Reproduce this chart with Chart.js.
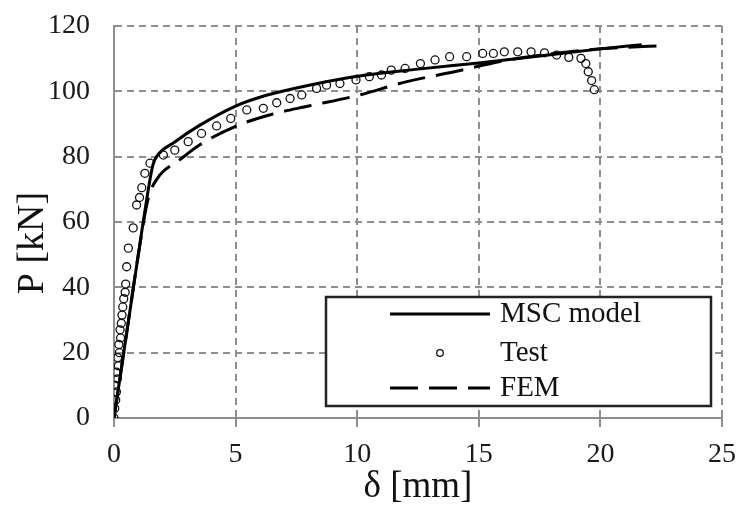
<!DOCTYPE html>
<html>
<head>
<meta charset="utf-8">
<script src="https://cdn.jsdelivr.net/npm/chart.js@4.4.1/dist/chart.umd.min.js"></script>
<style>
html,body{margin:0;padding:0;background:#fff;}
#wrap{width:742px;height:507px;}
</style>
</head>
<body>
<div id="wrap"><canvas id="c" width="742" height="507"></canvas></div>
<script>
// ---- data ----
const xTicks = [0, 5, 10, 15, 20, 25];
const yTicks = [0, 20, 40, 60, 80, 100, 120];
const xTitle = 'δ [mm]';
const yTitle = 'P [kN]';
const seriesNames = ['MSC model', 'Test', 'FEM'];

const mscX = [0, 0.4, 0.8, 1.2, 1.6, 1.75, 2.5, 3.5, 5, 6, 7.5, 10, 12.5, 15, 17.5, 20, 21.7];
const mscY = [0, 20, 40, 60, 77.5, 80, 84.5, 89.5, 95.5, 98.2, 101, 104.6, 106.8, 108.7, 110.8, 113, 114.3];

const testX = [0, 0.03, 0.07, 0.1, 0.06, 0.14, 0.1, 0.18, 0.15, 0.22, 0.2, 0.27, 0.25, 0.3, 0.33, 0.36, 0.4, 0.46, 0.48, 0.52, 0.59, 0.79, 0.93, 1.05, 1.14, 1.27, 1.48, 2.03, 2.5, 3.05, 3.6, 4.22, 4.8, 5.46, 6.14, 6.69, 7.24, 7.72, 8.33, 8.74, 9.29, 9.95, 10.5, 11.0, 11.4, 11.97, 12.6, 13.2, 13.8, 14.5, 15.16, 15.6, 16.05, 16.6, 17.15, 17.7, 18.2, 18.7, 19.2, 19.4, 19.5, 19.64, 19.75];
const testY = [0, 3, 5.5, 8, 10, 12, 14, 16, 18.5, 20, 22.5, 24.5, 27, 29, 31.5, 34, 36.5, 38.5, 41, 46.3, 52, 58.2, 65.2, 67.5, 70.5, 74.9, 78, 80.5, 82, 84.6, 87.1, 89.4, 91.7, 94.3, 94.8, 96.5, 97.8, 98.9, 100.9, 101.9, 102.4, 103.5, 104.5, 105, 106.5, 107, 108.5, 109.6, 110.6, 110.6, 111.6, 111.6, 112.1, 112.1, 112.1, 111.8, 111.1, 110.4, 110.1, 108.5, 106, 103.3, 100.5];

const femX = [0, 0.5, 1.0, 1.4, 1.8, 2.7, 3.5, 5, 6.5, 8, 10, 12, 14, 16, 18, 20, 22.6];
const femY = [0, 25, 50, 67, 73.5, 79, 83.5, 89.3, 93, 95.5, 98.7, 102.9, 106, 109.3, 111.5, 113, 114];

// ---- styles ----
const SERIF = "'Liberation Serif', 'Times New Roman', serif";
const GRID = '#8e8e8e';
const toPts = (xs, ys) => xs.map((x, i) => ({x: x, y: ys[i]}));

const legendPlugin = {
  id: 'boxLegend',
  afterDraw(chart) {
    const ctx = chart.ctx, a = chart.chartArea;
    const bx = a.left + 212, by = a.top + 271, bw = 385, bh = 109;
    ctx.save();
    ctx.fillStyle = '#fff';
    ctx.fillRect(bx, by, bw, bh);
    ctx.strokeStyle = '#222';
    ctx.lineWidth = 2.5;
    ctx.strokeRect(bx, by, bw, bh);
    const rows = [17, 56, 91];
    chart.data.datasets.forEach((ds, i) => {
      const ry = by + rows[i];
      const x1 = bx + 64, x2 = bx + 164;
      ctx.save();
      if (ds.showLine === false) {
        ctx.beginPath();
        ctx.lineWidth = 1.3;
        ctx.strokeStyle = '#111';
        ctx.arc((x1 + x2) / 2, ry, 3.3, 0, Math.PI * 2);
        ctx.stroke();
      } else {
        ctx.beginPath();
        ctx.lineWidth = ds.borderWidth;
        ctx.strokeStyle = ds.borderColor;
        ctx.setLineDash(ds.borderDash || []);
        ctx.moveTo(x1, ry);
        ctx.lineTo(x2, ry);
        ctx.stroke();
      }
      ctx.restore();
      ctx.fillStyle = '#111';
      ctx.font = '29px ' + SERIF;
      ctx.textBaseline = 'middle';
      ctx.textAlign = 'left';
      ctx.fillText(ds.label, bx + 174, ry);
    });
    ctx.restore();
  }
};

const yTitlePlugin = {
  id: 'yTitle',
  afterDraw(chart) {
    const ctx = chart.ctx, a = chart.chartArea;
    ctx.save();
    ctx.translate(a.left - 81, (a.top + a.bottom) / 2 + 21);
    ctx.rotate(-Math.PI / 2);
    ctx.fillStyle = '#111';
    ctx.font = '38px ' + SERIF;
    ctx.textAlign = 'center';
    ctx.textBaseline = 'middle';
    ctx.fillText(yTitle, 0, 0);
    ctx.restore();
  }
};

new Chart(document.getElementById('c'), {
  type: 'scatter',
  data: {
    datasets: [
      {
        label: seriesNames[0],
        data: toPts(mscX, mscY),
        showLine: true,
        borderColor: '#000',
        borderWidth: 3,
        pointRadius: 0,
        cubicInterpolationMode: 'monotone',
        fill: false
      },
      {
        label: seriesNames[1],
        data: toPts(testX, testY),
        showLine: false,
        pointStyle: 'circle',
        pointRadius: 4,
        pointBorderWidth: 1.3,
        pointBorderColor: '#111',
        pointBackgroundColor: 'rgba(0,0,0,0)',
        borderColor: '#111',
        backgroundColor: 'rgba(0,0,0,0)'
      },
      {
        label: seriesNames[2],
        data: toPts(femX, femY),
        showLine: true,
        borderColor: '#000',
        borderWidth: 3,
        borderDash: [28, 11],
        pointRadius: 0,
        cubicInterpolationMode: 'monotone',
        fill: false
      }
    ]
  },
  options: {
    responsive: false,
    animation: false,
    devicePixelRatio: 1,
    layout: {padding: {top: 26, right: 20, left: 0, bottom: 0}},
    plugins: {legend: {display: false}, tooltip: {enabled: false}},
    scales: {
      x: {
        type: 'linear', min: 0, max: 25,
        afterBuildTicks: s => { s.ticks = xTicks.map(v => ({value: v})); },
        afterFit: s => { s.height = 89; s.paddingLeft = 0; s.paddingRight = 0; },
        grid: {color: GRID, lineWidth: 2, drawTicks: true, tickLength: 9, tickColor: GRID, tickWidth: 2},
        border: {display: true, color: GRID, width: 2, dash: [7, 5]},
        ticks: {padding: 11, color: '#1a1a1a', font: {family: SERIF, size: 28}},
        title: {display: true, text: xTitle, color: '#111', font: {family: SERIF, size: 37, lineHeight: 1}, padding: {top: 0, bottom: 1}}
      },
      y: {
        type: 'linear', min: 0, max: 120,
        afterBuildTicks: s => { s.ticks = yTicks.map(v => ({value: v})); },
        afterFit: s => { s.width = 114; s.paddingTop = 0; s.paddingBottom = 0; },
        grid: {color: GRID, lineWidth: 2, drawTicks: false},
        border: {display: true, color: GRID, width: 2, dash: [7, 5]},
        ticks: {padding: 24, color: '#1a1a1a', font: {family: SERIF, size: 28}},
        title: {display: false}
      }
    }
  },
  plugins: [legendPlugin, yTitlePlugin]
});
</script>
</body>
</html>
